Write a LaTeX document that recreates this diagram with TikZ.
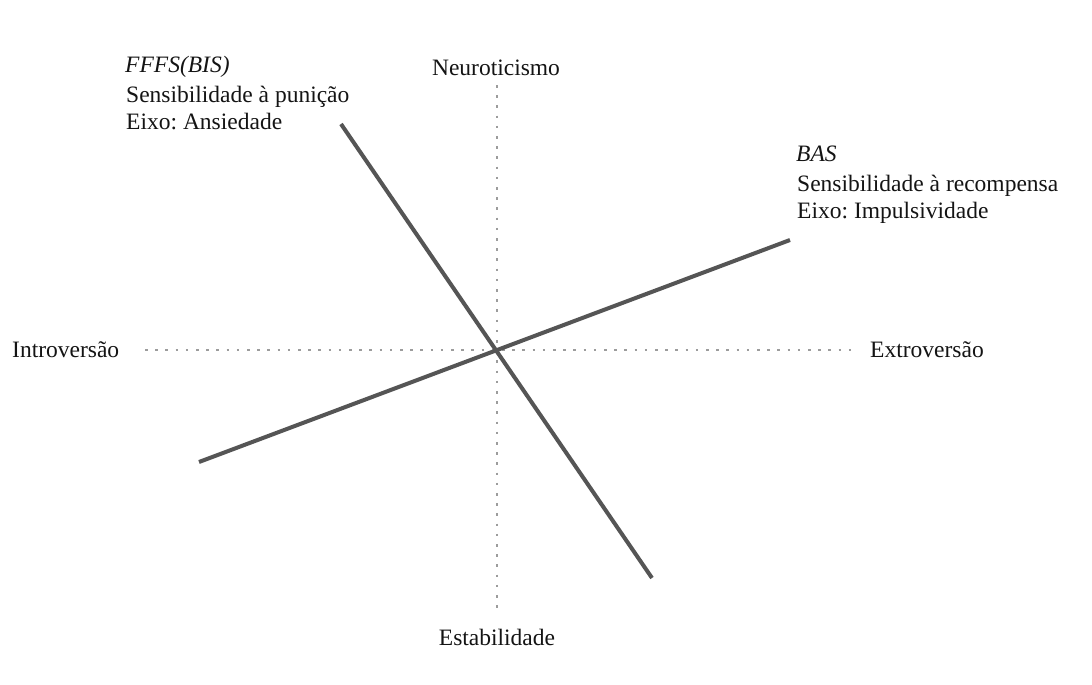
\documentclass[tikz,border=0pt]{standalone}
\usepackage{fontspec}
\setmainfont{Liberation Serif}
\frenchspacing
\definecolor{axisgray}{HTML}{9C9C9C}
\definecolor{linegray}{HTML}{555555}
\definecolor{textcol}{HTML}{141414}
\begin{document}
\begin{tikzpicture}[x=1pt,y=-1pt,
  lbl/.style={inner sep=0pt, text=textcol, font=\fontsize{23.5}{27}\selectfont},
  axisline/.style={draw=axisgray, line width=2.5pt, dash pattern=on 2.5pt off 7.7pt},
  mainline/.style={draw=linegray, line width=4pt}]
\useasboundingbox[fill=white] (0,0) rectangle (1092,685);
% axis end points
\coordinate (vt) at (497,85);
\coordinate (vb) at (497,610);
\coordinate (hl) at (145,350);
\coordinate (hr) at (851,350);
% main lines
\coordinate (ffa) at (341,124);
\coordinate (ffb) at (652,578);
\coordinate (basa) at (199,462);
\coordinate (basb) at (790,240);
\draw[axisline] (vt) -- (vb);
\draw[axisline] (hl) -- (hr);
\draw[mainline] (ffa) -- (ffb);
\draw[mainline] (basa) -- (basb);
% labels
\node[lbl, anchor=base] (neuro) at (496,75) {Neuroticismo};
\node[lbl, anchor=base] (estab) at (497,645) {Estabilidade};
\node[lbl, anchor=base west] (intro) at (12,357) {Introversão};
\node[lbl, anchor=base west] (extro) at (870,357) {Extroversão};
\node[lbl, anchor=base west] (ffhead) at (125,72) {\itshape FFFS(BIS)};
\node[lbl, anchor=base west] (ffsens) at (126,102) {Sensibilidade à punição};
\node[lbl, anchor=base west] (ffeixo) at (126,129) {Eixo: Ansiedade};
\node[lbl, anchor=base west] (bashead) at (796,161) {\itshape BAS};
\node[lbl, anchor=base west] (bassens) at (797,191) {Sensibilidade à recompensa};
\node[lbl, anchor=base west] (baseixo) at (797,218) {Eixo: Impulsividade};
\end{tikzpicture}
\end{document}
